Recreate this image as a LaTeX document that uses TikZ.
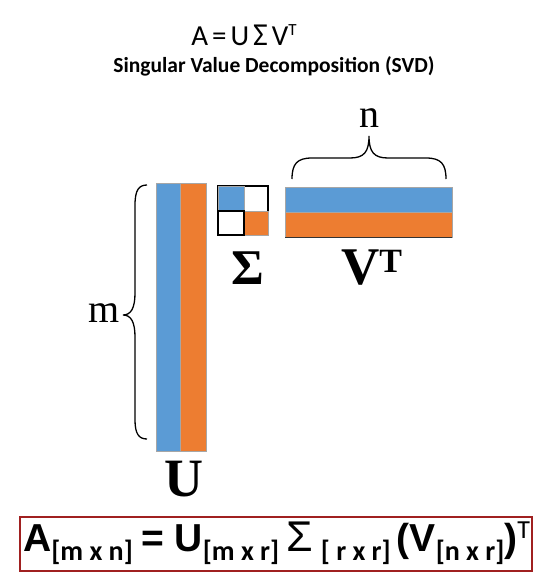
\documentclass[tikz,border=0pt]{standalone}
\usepackage{fontspec}
\setmainfont{Liberation Serif}
\newfontfamily\calibri{Carlito}
\newfontfamily\arial{Liberation Sans}
\usepackage{tikz}
\pgfdeclarelayer{edgelayer}
\pgfdeclarelayer{nodelayer}
\pgfsetlayers{edgelayer,nodelayer,main}
\definecolor{svdblue}{RGB}{91,155,213}
\definecolor{svdorange}{RGB}{237,125,49}
\definecolor{boxred}{RGB}{160,32,32}
\tikzstyle{bluecell}=[fill=svdblue, draw=gray!70, line width=0.4pt]
\tikzstyle{orangecell}=[fill=svdorange, draw=gray!70, line width=0.4pt]
\tikzstyle{whitecell}=[fill=white, draw=black, line width=1.3pt]
\tikzstyle{brace}=[draw=black, line width=1.3pt]
\tikzstyle{label}=[inner sep=0pt, anchor=base]
\newcommand{\subsans}[1]{\raisebox{-9pt}{\fontsize{28}{28}\selectfont\calibri\bfseries #1}}
\newcommand{\supsans}[1]{\raisebox{13pt}{\fontsize{26}{26}\selectfont\calibri\mdseries #1}}
\begin{document}
\begin{tikzpicture}[x=1pt, y=-1pt]
	\useasboundingbox (0,0) rectangle (549,586);
	\begin{pgfonlayer}{nodelayer}

	%title
		\node [style=label] (title) at (244,46) {\fontsize{29}{29}\selectfont\calibri A\hspace{4pt}=\hspace{4pt}U\hspace{4pt}{\fontsize{32}{32}\selectfont Σ}\hspace{4pt}V\raisebox{10pt}{\fontsize{17}{17}\selectfont T}};
		\node [style=label] (subtitle) at (274,72) {\fontsize{21.5}{21.5}\selectfont\calibri\bfseries Singular Value Decomposition (SVD)};

	%labels
		\node [style=label] (n) at (369,127) {\fontsize{40}{40}\selectfont n};
		\node [style=label] (m) at (104,322) {\fontsize{40}{40}\selectfont m};
		\node [style=label] (sigma) at (248,284) {\fontsize{50}{50}\selectfont\bfseries Σ};
		\node [style=label, anchor=base west] (vt) at (341,284) {\fontsize{53}{53}\selectfont\bfseries V\raisebox{12pt}{\fontsize{34}{34}\selectfont T}};
		\node [style=label] (u) at (184,496) {\fontsize{54}{54}\selectfont\bfseries U};

	%formula
		\node [style=label, anchor=base west] (formula) at (23,551) {\fontsize{39}{39}\selectfont\arial\bfseries A\subsans{[m x n]}\hspace{9pt}=\hspace{10pt}U\subsans{[m x r]}\hspace{7pt}{\fontsize{43}{43}\selectfont\mdseries Σ}\hspace{8pt}\subsans{[ r x r]}\hspace{6pt}(V\subsans{[n x r]})\supsans{T}};

	\end{pgfonlayer}
	\begin{pgfonlayer}{edgelayer}

		%U
		\path [style=bluecell] (156,183) rectangle (180,451);
		\path [style=orangecell] (180,183) rectangle (206,451);

		%Sigma
		\path [style=whitecell] (218,186) rectangle (268,235);
		\path [style=bluecell] (218,186) rectangle (244,211);
		\path [style=orangecell] (244,211) rectangle (268,235);
		\draw [style=whitecell] (244,211) rectangle (218,235);

		%V^T
		\path [style=bluecell] (285,187) rectangle (452,212);
		\path [style=orangecell] (285,212) rectangle (452,237);
		\draw [draw=black!80, line width=0.8pt] (285,237) -- (452,237);

		%braces
		\draw [style=brace] (292,179) .. controls (292,164) and (297,158) .. (312,158) -- (350,158) .. controls (364,158) and (369,152) .. (369,136)
			(369,136) .. controls (369,152) and (374,158) .. (388,158) -- (426,158) .. controls (441,158) and (446,164) .. (446,179);
		\draw [style=brace] (147,185) .. controls (139,185) and (135,190) .. (135,205) -- (135,293) .. controls (135,308) and (131,315) .. (123,315)
			(123,315) .. controls (131,315) and (135,322) .. (135,337) -- (135,420) .. controls (135,434) and (139,439) .. (147,439);

		%box
		\draw [draw=boxred, line width=2pt] (20,517) rectangle (532,571);

	\end{pgfonlayer}
\end{tikzpicture}
\end{document}
